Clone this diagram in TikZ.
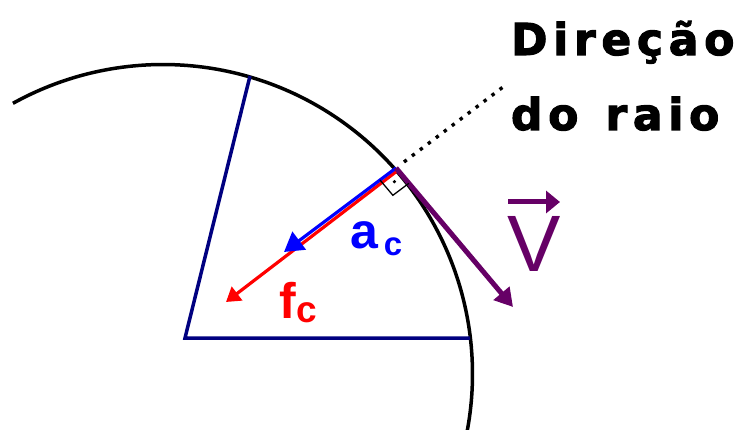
\documentclass[tikz,border=0pt]{standalone}
\usepackage{fontspec}
\setmainfont{Liberation Sans}
\newfontfamily\labfont{DejaVu Sans Bold}[FakeBold=2.5,LetterSpace=13]
\newfontfamily\vecfont{Liberation Sans}
\usetikzlibrary{arrows.meta,calc}
\definecolor{navyline}{RGB}{0,0,128}
\definecolor{accblue}{RGB}{0,0,255}
\definecolor{forcered}{RGB}{255,0,0}
\definecolor{velpurple}{RGB}{102,0,102}
\tikzset{
  rim/.style={line width=3.5pt, black},
  sector/.style={line width=3.5pt, navyline},
  accvec/.style={line width=3.2pt, accblue, -{Triangle[length=19pt,width=22pt]}},
  forcevec/.style={line width=3.2pt, forcered, -{Triangle[length=14pt,width=17pt]}},
  velvec/.style={line width=5pt, velpurple, -{Triangle[length=18pt,width=20pt]}},
  rightmark/.style={line width=1.3pt, black},
  radialdots/.style={line width=3.4pt, black, dash pattern=on 3.4pt off 6.6pt},
  lab/.style={inner sep=0pt, outer sep=0pt}
}
\begin{document}
\begin{tikzpicture}[x=1pt,y=-1pt]
\useasboundingbox (0,0) rectangle (749,430);
% key points
\coordinate (S) at (185,338);
\coordinate (T) at (250,76);
\coordinate (H) at (470,338);
\coordinate (J) at (396,168);
\coordinate (Atip) at (284,252);
\coordinate (Rs) at (397,171);
\coordinate (Ftip) at (226,302);
\coordinate (Vtip) at (513,307);
\coordinate (D1) at (404,162);
\coordinate (D2) at (503,87);
% circle arc
\begin{scope}
\clip (0,0) rectangle (749,430);
\draw[rim] plot[domain=-119:20, samples=150] ({163+309.5*cos(\x)},{374+309.5*sin(\x)});
\end{scope}
% sector
\draw[sector] (T) -- (S) -- (H);
% vectors
\draw[forcevec] (Rs) -- (Ftip);
\draw[accvec] (J) -- (Atip);
\draw[velvec] (J) -- (Vtip);
% right angle mark
\coordinate (C1) at ($(J)!20pt!(Atip)$);
\coordinate (C3) at ($(J)!20pt!(Vtip)$);
\coordinate (C2) at ($(C1)+(C3)-(J)$);
\draw[rightmark] (C1) -- (C2) -- (C3);
\fill ($(J)!0.5!(C2)$) circle (1.8pt);
% radial direction dotted line
\draw[radialdots] (D1) -- (D2);
% labels
\node[lab, anchor=base west] (dir1) at (511,55) {\fontsize{44}{44}\selectfont\labfont\bfseries Direção};
\node[lab, anchor=base west] (dir2) at (511,130) {\fontsize{44}{44}\selectfont\labfont\bfseries do\hspace{6pt} raio};
\node[lab, anchor=base west, text=accblue] (aclab) at (350,248) {\fontsize{50}{50}\selectfont\bfseries a\kern6pt\raisebox{-7pt}{\fontsize{33}{33}\selectfont c}};
\node[lab, anchor=base west, text=forcered] (fclab) at (279,318) {\fontsize{50}{50}\selectfont\bfseries f\kern1pt\raisebox{-4pt}{\fontsize{37}{37}\selectfont c}};
\node[lab, anchor=base, text=velpurple] (vlab) at (534,272) {\fontsize{80}{80}\selectfont\vecfont V};
\coordinate (va1) at (508,202);
\coordinate (va2) at (560,202);
\draw[line width=5pt, velpurple, -{Triangle[length=14pt,width=22pt]}] (va1) -- (va2);
\end{tikzpicture}
\end{document}
